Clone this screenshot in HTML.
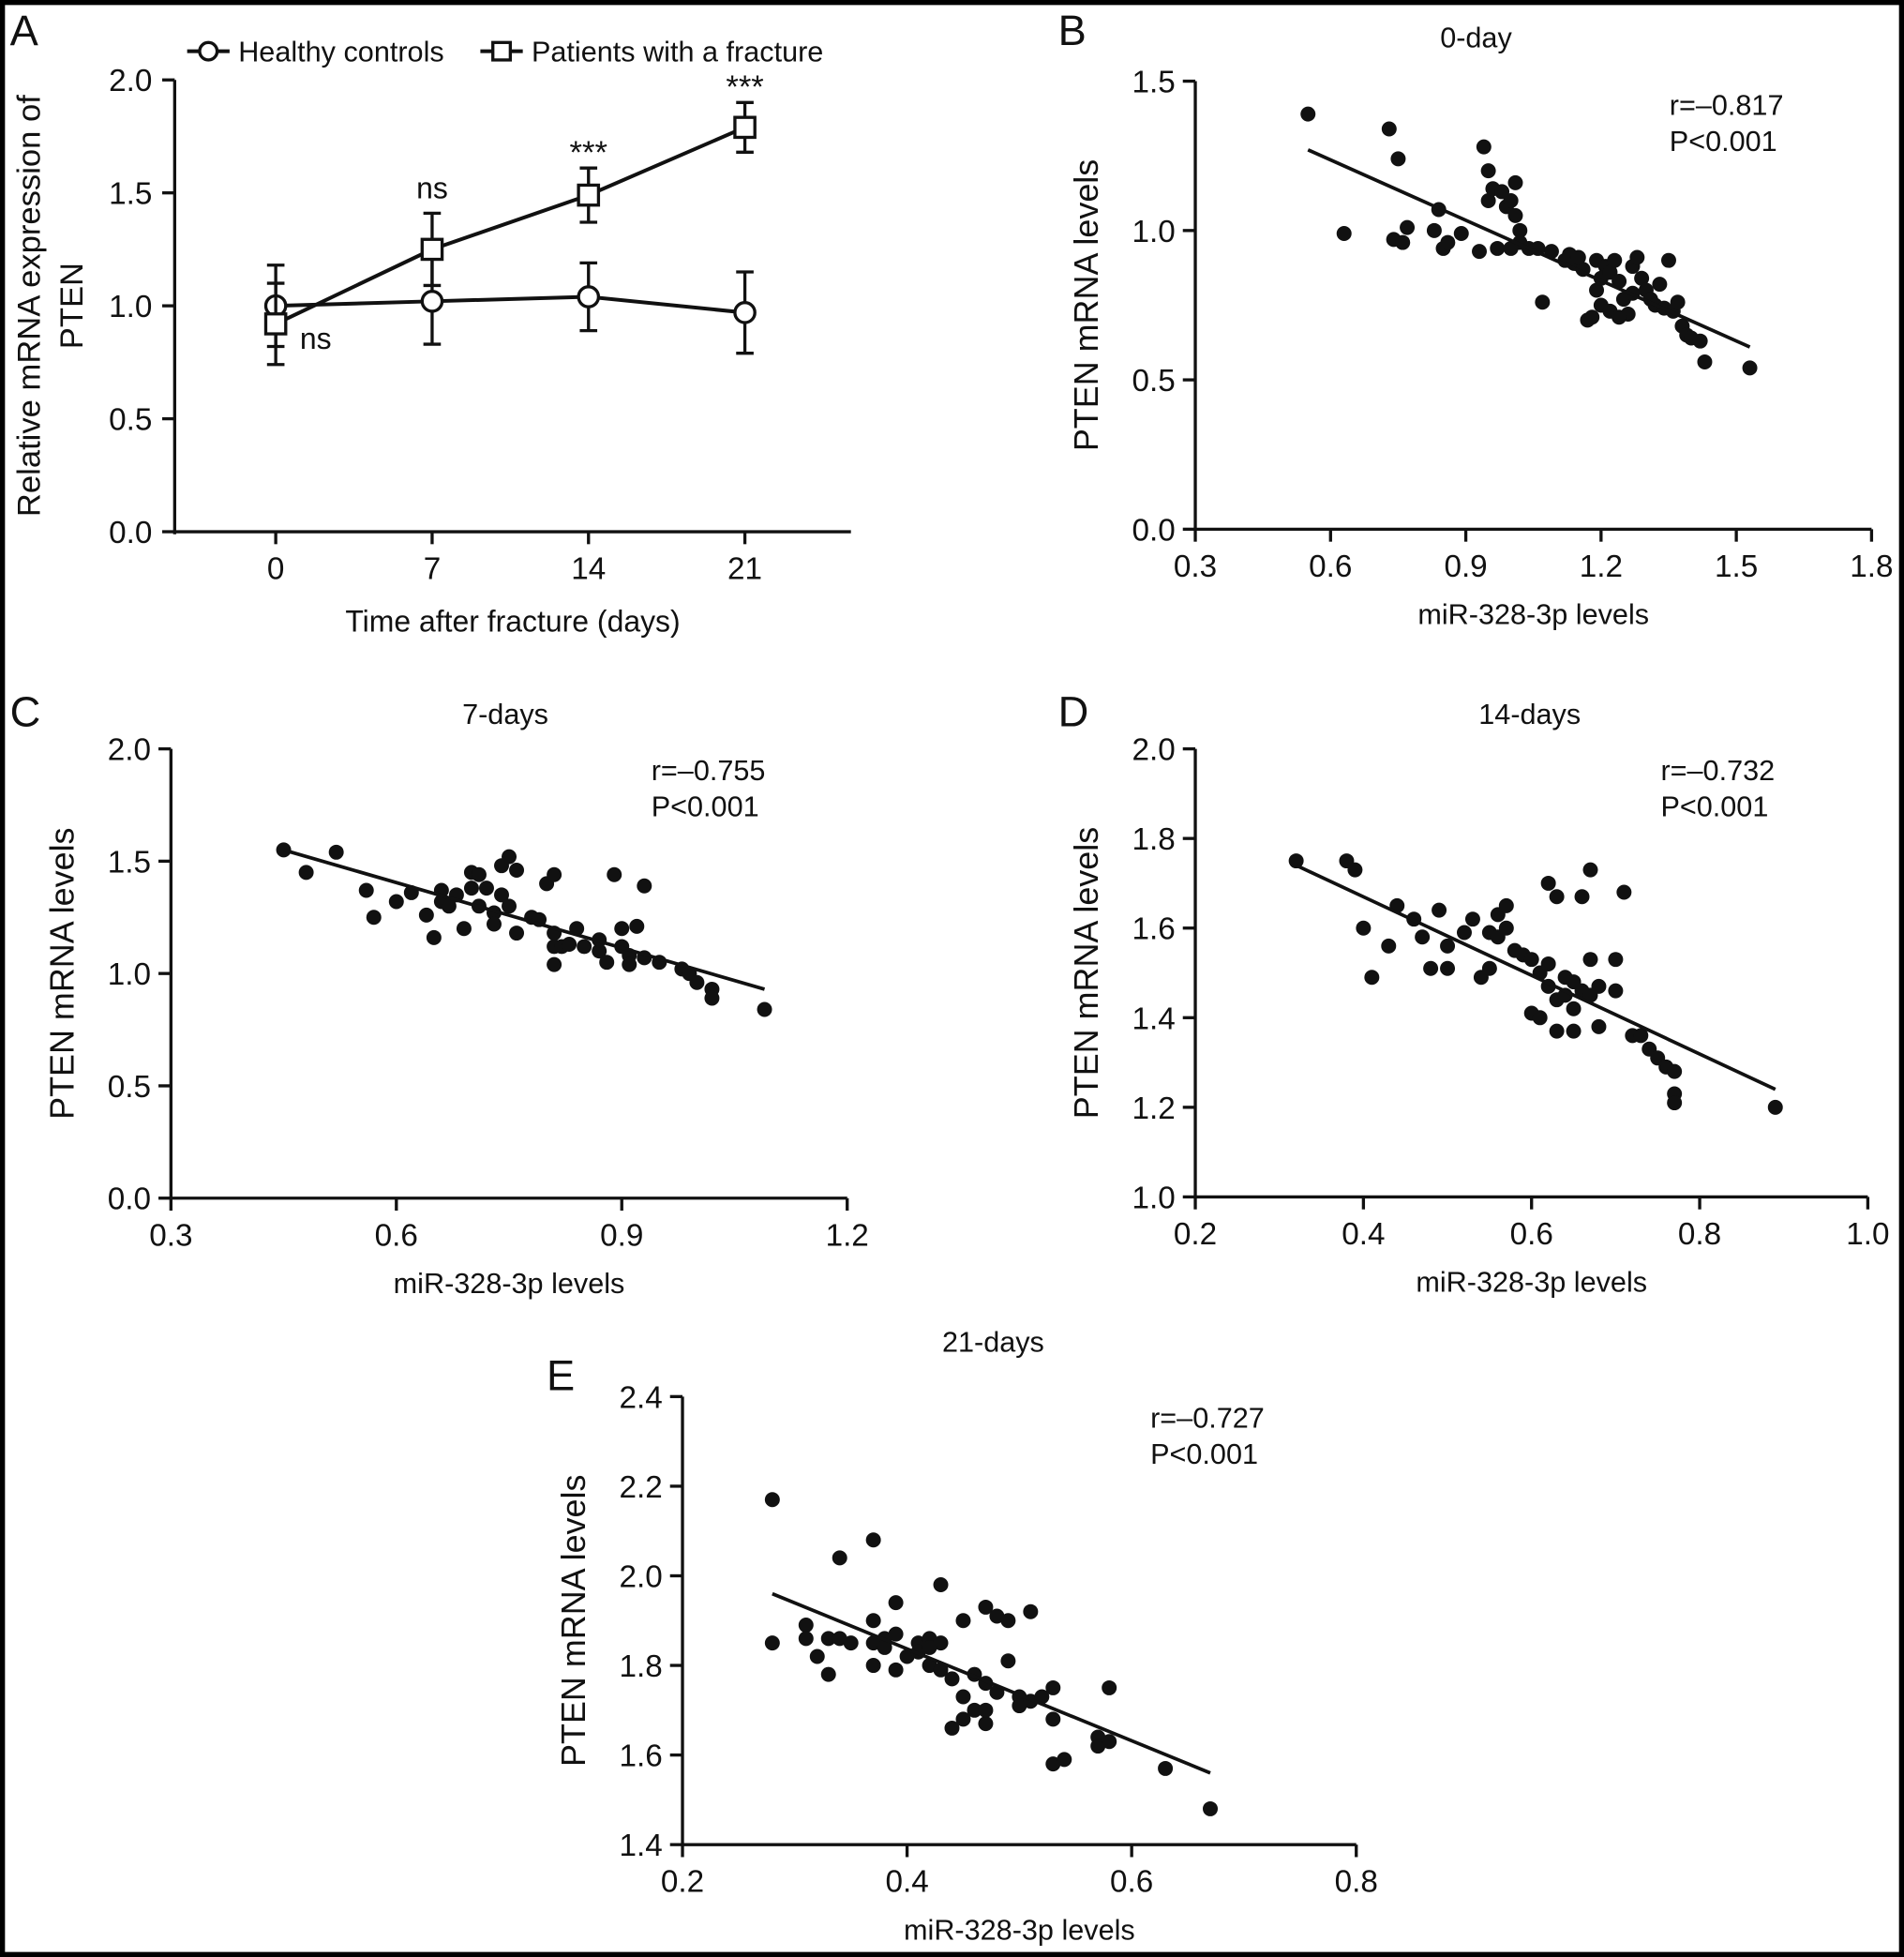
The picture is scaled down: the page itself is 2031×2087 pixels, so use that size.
<!DOCTYPE html>
<html><head><meta charset="utf-8"><style>
html,body{margin:0;padding:0;background:#000;}
svg{display:block;}
text{font-family:"Liberation Sans",sans-serif;fill:#111;}
</style></head><body>
<svg id="fig" width="2031" height="2087" viewBox="0 0 1526 1568" xmlns="http://www.w3.org/2000/svg">
<rect x="4" y="4" width="1518" height="1560" fill="#fff"/>
<g id="root"></g>
</svg>
<script>
// Panel A data
const daysA = [0, 7, 14, 21];
const healthyMean = [1.00, 1.02, 1.04, 0.97];
const healthyErr = [0.18, 0.19, 0.15, 0.18];
const patientMean = [0.92, 1.25, 1.49, 1.79];
const patientErr = [0.18, 0.16, 0.12, 0.11];
const yTicksA = [0.0, 0.5, 1.0, 1.5, 2.0];
const sigLabels = ["ns", "ns", "***", "***"];

// Scatter data
const bX = [0.55,0.63,0.73,0.75,0.74,0.76,0.77,0.83,0.84,0.85,0.86,0.89,0.93,0.94,0.95,0.95,0.96,0.97,0.98,0.99,1.0,1.01,1.01,1.02,1.02,1.0,1.04,1.06,1.07,1.09,1.12,1.13,1.14,1.16,1.17,1.18,1.19,1.19,1.2,1.2,1.21,1.22,1.22,1.23,1.24,1.25,1.26,1.27,1.27,1.28,1.29,1.3,1.31,1.32,1.33,1.34,1.35,1.36,1.37,1.38,1.39,1.4,1.42,1.43,1.53,1.24,1.15];
const bY = [1.39,0.99,1.34,1.24,0.97,0.96,1.01,1.0,1.07,0.94,0.96,0.99,0.93,1.28,1.2,1.1,1.14,0.94,1.13,1.08,1.1,1.16,1.05,1.0,0.96,0.94,0.94,0.94,0.76,0.93,0.9,0.92,0.89,0.87,0.7,0.71,0.8,0.9,0.84,0.75,0.88,0.86,0.73,0.9,0.83,0.77,0.72,0.88,0.79,0.91,0.84,0.8,0.77,0.75,0.82,0.74,0.9,0.73,0.76,0.68,0.65,0.64,0.63,0.56,0.54,0.71,0.91];
const cX = [0.45,0.48,0.52,0.56,0.57,0.6,0.62,0.64,0.65,0.66,0.66,0.67,0.68,0.69,0.7,0.7,0.71,0.71,0.72,0.73,0.73,0.74,0.74,0.75,0.75,0.76,0.76,0.78,0.79,0.8,0.81,0.81,0.81,0.81,0.82,0.83,0.84,0.85,0.87,0.87,0.88,0.89,0.9,0.9,0.91,0.91,0.92,0.93,0.93,0.95,0.98,0.99,1.0,1.02,1.02,1.09];
const cY = [1.55,1.45,1.54,1.37,1.25,1.32,1.36,1.26,1.16,1.37,1.32,1.3,1.35,1.2,1.45,1.38,1.44,1.3,1.38,1.27,1.22,1.48,1.35,1.52,1.3,1.46,1.18,1.25,1.24,1.4,1.44,1.18,1.12,1.04,1.12,1.13,1.2,1.12,1.1,1.15,1.05,1.44,1.2,1.12,1.08,1.04,1.21,1.39,1.07,1.05,1.02,1.0,0.96,0.93,0.89,0.84];
const dX = [0.32,0.38,0.39,0.4,0.41,0.43,0.44,0.46,0.47,0.48,0.49,0.5,0.5,0.52,0.53,0.54,0.55,0.55,0.56,0.57,0.56,0.57,0.58,0.59,0.6,0.6,0.61,0.61,0.62,0.62,0.63,0.63,0.63,0.64,0.64,0.65,0.65,0.66,0.66,0.67,0.67,0.67,0.68,0.68,0.7,0.7,0.71,0.72,0.73,0.74,0.75,0.76,0.77,0.77,0.77,0.89,0.65,0.62];
const dY = [1.75,1.75,1.73,1.6,1.49,1.56,1.65,1.62,1.58,1.51,1.64,1.56,1.51,1.59,1.62,1.49,1.59,1.51,1.63,1.65,1.58,1.6,1.55,1.54,1.53,1.41,1.4,1.5,1.7,1.47,1.44,1.37,1.67,1.49,1.45,1.48,1.42,1.67,1.46,1.73,1.53,1.45,1.38,1.47,1.53,1.46,1.68,1.36,1.36,1.33,1.31,1.29,1.28,1.23,1.21,1.2,1.37,1.52];
const eX = [0.28,0.28,0.31,0.31,0.32,0.33,0.33,0.34,0.34,0.35,0.37,0.37,0.37,0.37,0.38,0.38,0.39,0.39,0.39,0.4,0.41,0.41,0.42,0.42,0.43,0.43,0.43,0.44,0.44,0.45,0.45,0.45,0.46,0.46,0.47,0.47,0.47,0.48,0.48,0.49,0.49,0.5,0.5,0.51,0.51,0.52,0.53,0.53,0.53,0.54,0.57,0.57,0.58,0.58,0.63,0.67,0.42,0.47];
const eY = [2.17,1.85,1.89,1.86,1.82,1.78,1.86,2.04,1.86,1.85,2.08,1.9,1.85,1.8,1.86,1.84,1.94,1.87,1.79,1.82,1.85,1.83,1.86,1.8,1.98,1.85,1.79,1.77,1.66,1.9,1.73,1.68,1.78,1.7,1.93,1.76,1.67,1.91,1.74,1.9,1.81,1.73,1.71,1.92,1.72,1.73,1.75,1.68,1.58,1.59,1.64,1.62,1.75,1.63,1.57,1.48,1.84,1.7];

const NS = "http://www.w3.org/2000/svg";
const root = document.getElementById('root');
function el(tag, attrs, parent, txt){
  const e = document.createElementNS(NS, tag);
  for (const k in attrs) e.setAttribute(k, attrs[k]);
  if (txt !== undefined) e.textContent = txt;
  (parent || root).appendChild(e);
  return e;
}
function line(x1,y1,x2,y2,p,w){return el('line',{x1,y1,x2,y2,stroke:'#111','stroke-width':w||2.5},p);}

// ---------- Panel A ----------
(function(){
  const g = el('g',{});  
  const X0=140, X1=682, Y0=426, Y1=64;
  const sx = d => 221 + (d-0)*(597-221)/21;
  const sy = v => Y0 - v*(Y0-Y1)/2.0;
  const lab = el('text',{x:8,y:36,'font-size':34},g,'A');  
  const ax = line(X0,Y1,X0,Y0+2,g);  
  const axx = line(X0-1,Y0,X1,Y0,g);  
  yTicksA.forEach(t=>{
    line(X0-10,sy(t),X0,sy(t),g);
    const tl = el('text',{x:X0-18,y:sy(t)+9,'font-size':25,'text-anchor':'end'},g,t.toFixed(1));
     
  });
  daysA.forEach(d=>{
    line(sx(d),Y0,sx(d),Y0+10,g);
    const tl = el('text',{x:sx(d),y:Y0+38,'font-size':25,'text-anchor':'middle'},g,String(d));
     
  });
  const xt = el('text',{x:411,y:506,'font-size':24,'text-anchor':'middle'},g,'Time after fracture (days)');
   
  const yt = el('text',{transform:'translate(32,245) rotate(-90)','font-size':26,'text-anchor':'middle'},g);
   
  el('tspan',{x:0,dy:0},yt,'Relative mRNA expression of');
  el('tspan',{x:0,dy:34},yt,'PTEN');
  function series(mean, err, shape, name){
    const sg = el('g',{},g);  
    el('polyline',{points:daysA.map((d,i)=>sx(d)+','+sy(mean[i])).join(' '),fill:'none',stroke:'#111','stroke-width':3},sg);
    daysA.forEach((d,i)=>{
      const x=sx(d);
      line(x,sy(mean[i]-err[i]),x,sy(mean[i]+err[i]),sg);
      line(x-7,sy(mean[i]+err[i]),x+7,sy(mean[i]+err[i]),sg);
      line(x-7,sy(mean[i]-err[i]),x+7,sy(mean[i]-err[i]),sg);
      let m;
      if(shape==='circle') m = el('circle',{cx:x,cy:sy(mean[i]),r:8,fill:'#fff',stroke:'#111','stroke-width':2.5},sg);
      else m = el('rect',{x:x-8,y:sy(mean[i])-8,width:16,height:16,fill:'#fff',stroke:'#111','stroke-width':2.5},sg);
       
    });
  }
  series(healthyMean,healthyErr,'circle','healthy-controls-series');
  series(patientMean,patientErr,'square','patients-series');
  daysA.forEach((d,i)=>{
    let x=sx(d), y;
    if(i===0){x=sx(d)+32; y=sy(patientMean[i])+20;}
    else y=sy(patientMean[i]+patientErr[i])-12;
    const s = el('text',{x:x,y:y+(i>=2?8:0),'font-size':i>=2?26:24,'text-anchor':'middle'},g,sigLabels[i]);
     
  });
  const lg = el('g',{},g);  
  line(150,41,184,41,lg,3); el('circle',{cx:167,cy:41,r:7,fill:'#fff',stroke:'#111','stroke-width':2.5},lg);
  el('text',{x:191,y:49,'font-size':23},lg,'Healthy controls');
  line(385,41,419,41,lg,3); el('rect',{x:395,y:34,width:14,height:14,fill:'#fff',stroke:'#111','stroke-width':2.5},lg);
  el('text',{x:426,y:49,'font-size':23},lg,'Patients with a fracture');
})();

// ---------- Scatter panels ----------
function scatter(cfg){
  const g = el('g',{});  
  const sx = v => cfg.px0 + (v-cfg.xmin)*(cfg.px1-cfg.px0)/(cfg.xmax-cfg.xmin);
  const sy = v => cfg.py0 - (v-cfg.ymin)*(cfg.py0-cfg.py1)/(cfg.ymax-cfg.ymin);
  const lab = el('text',{x:cfg.lx,y:cfg.ly,'font-size':34},g,cfg.letter);
   
  const ti = el('text',{x:cfg.tx,y:cfg.ty,'font-size':23,'text-anchor':'middle'},g,cfg.title);
   
  const ya = line(cfg.px0,cfg.py1,cfg.px0,cfg.py0+1,g);  
  const xa = line(cfg.px0-1,cfg.py0,cfg.px1,cfg.py0,g);  
  cfg.yt.forEach(t=>{
    line(cfg.px0-10,sy(t),cfg.px0,sy(t),g);
    const tl = el('text',{x:cfg.px0-16,y:sy(t)+9,'font-size':25,'text-anchor':'end'},g,t.toFixed(1));
     
  });
  cfg.xt.forEach(t=>{
    line(sx(t),cfg.py0,sx(t),cfg.py0+10,g);
    const tl = el('text',{x:sx(t),y:cfg.py0+38,'font-size':25,'text-anchor':'middle'},g,t.toFixed(1));
     
  });
  const xt = el('text',{x:(cfg.px0+cfg.px1)/2,y:cfg.py0+76,'font-size':23,'text-anchor':'middle'},g,'miR-328-3p levels');
   
  const yt = el('text',{transform:'translate('+(cfg.px0-78)+','+((cfg.py0+cfg.py1)/2)+') rotate(-90)','font-size':27,'text-anchor':'middle'},g,'PTEN mRNA levels');
   
  const st = el('text',{x:cfg.sx,y:cfg.sy,'font-size':23},g);
   
  el('tspan',{x:cfg.sx,dy:0},st,cfg.r);
  el('tspan',{x:cfg.sx,dy:29},st,'P<0.001');
  cfg.xs.forEach((v,i)=>{
    const c = el('circle',{cx:sx(v),cy:sy(cfg.ys[i]),r:6,fill:'#111'},g);
     
  });
  const rl = line(sx(cfg.line[0]),sy(cfg.line[1]),sx(cfg.line[2]),sy(cfg.line[3]),g,2.8);
   
}
scatter({name:'panel-b',letter:'B',lx:848,ly:36,title:'0-day',tx:1183,ty:38,px0:958,px1:1500,py0:424,py1:65,xmin:0.3,xmax:1.8,ymin:0,ymax:1.5,
  xt:[0.3,0.6,0.9,1.2,1.5,1.8],yt:[0.0,0.5,1.0,1.5],xs:bX,ys:bY,line:[0.55,1.27,1.53,0.61],r:'r=\u20130.817',sx:1338,sy:92});
scatter({name:'panel-c',letter:'C',lx:8,ly:582,title:'7-days',tx:405,ty:580,px0:137,px1:679,py0:960,py1:600,xmin:0.3,xmax:1.2,ymin:0,ymax:2.0,
  xt:[0.3,0.6,0.9,1.2],yt:[0.0,0.5,1.0,1.5,2.0],xs:cX,ys:cY,line:[0.45,1.55,1.09,0.93],r:'r=\u20130.755',sx:522,sy:625});
scatter({name:'panel-d',letter:'D',lx:848,ly:582,title:'14-days',tx:1226,ty:580,px0:958,px1:1497,py0:959,py1:600,xmin:0.2,xmax:1.0,ymin:1.0,ymax:2.0,
  xt:[0.2,0.4,0.6,0.8,1.0],yt:[1.0,1.2,1.4,1.6,1.8,2.0],xs:dX,ys:dY,line:[0.32,1.74,0.89,1.24],r:'r=\u20130.732',sx:1331,sy:625});
scatter({name:'panel-e',letter:'E',lx:438,ly:1114,title:'21-days',tx:796,ty:1083,px0:547,px1:1087,py0:1478,py1:1119,xmin:0.2,xmax:0.8,ymin:1.4,ymax:2.4,
  xt:[0.2,0.4,0.6,0.8],yt:[1.4,1.6,1.8,2.0,2.2,2.4],xs:eX,ys:eY,line:[0.28,1.96,0.67,1.56],r:'r=\u20130.727',sx:922,sy:1144});
</script>
</body></html>
